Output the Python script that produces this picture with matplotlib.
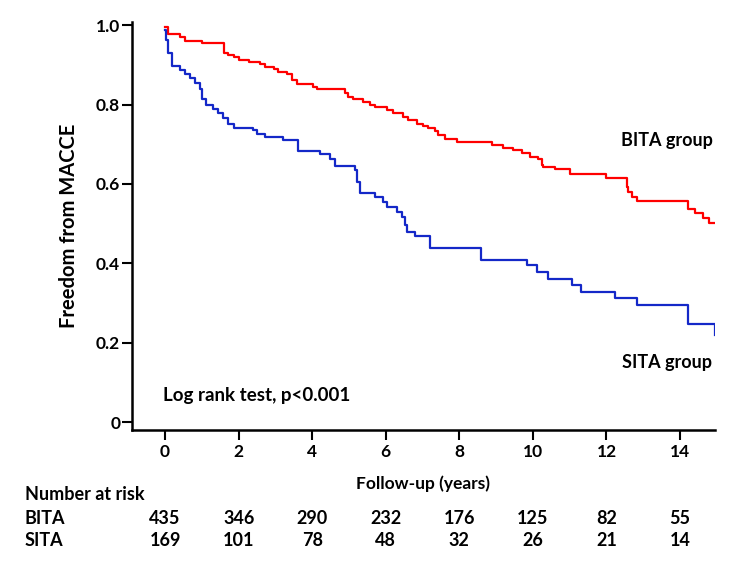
import numpy as np
import matplotlib
matplotlib.use('Agg')
import matplotlib.pyplot as plt
import matplotlib.transforms as mtransforms

plt.rcParams['font.family'] = ['Lato', 'DejaVu Sans']
plt.rcParams['font.weight'] = 'bold'
plt.rcParams['axes.labelweight'] = 'bold'

# Kaplan-Meier step curves (time in years, survival)
bita_t = [0, 0.09, 0.41, 0.54, 1.0, 1.59, 1.72, 1.86, 2.0, 2.27, 2.59, 2.72, 2.95, 3.08,
          3.31, 3.44, 3.58, 4.03, 4.12, 4.89, 4.98, 5.12, 5.39, 5.57, 5.71, 6.02, 6.2,
          6.48, 6.61, 6.84, 7.0, 7.16, 7.34, 7.43, 7.61, 7.93, 8.9, 9.19, 9.46, 9.69,
          9.92, 10.15, 10.24, 10.28, 10.6, 11.0, 12.0, 12.55, 12.59, 12.68, 12.82,
          14.22, 14.4, 14.62, 14.8, 14.95]
bita_s = [0.995, 0.977, 0.971, 0.961, 0.954, 0.931, 0.924, 0.919, 0.912, 0.908, 0.901,
          0.895, 0.889, 0.882, 0.877, 0.863, 0.853, 0.843, 0.838, 0.828, 0.819, 0.813,
          0.807, 0.798, 0.793, 0.786, 0.779, 0.769, 0.761, 0.752, 0.746, 0.740, 0.734,
          0.723, 0.712, 0.706, 0.698, 0.691, 0.685, 0.677, 0.668, 0.662, 0.647, 0.642,
          0.637, 0.625, 0.616, 0.593, 0.580, 0.568, 0.557, 0.537, 0.526, 0.513, 0.502,
          0.502]

sita_t = [0, 0.02, 0.09, 0.18, 0.41, 0.54, 0.68, 0.82, 0.95, 1.0, 1.11, 1.31, 1.45, 1.57,
          1.72, 1.86, 2.4, 2.49, 2.72, 3.21, 3.62, 4.21, 4.48, 4.62, 5.16, 5.21, 5.3,
          5.71, 5.93, 6.02, 6.3, 6.43, 6.52, 6.57, 6.79, 7.2, 8.6, 9.83, 10.1, 10.42,
          11.05, 11.32, 12.23, 12.82, 14.22, 14.95]
sita_s = [0.987, 0.962, 0.929, 0.897, 0.887, 0.877, 0.868, 0.855, 0.838, 0.815, 0.798,
          0.790, 0.778, 0.765, 0.752, 0.742, 0.736, 0.727, 0.719, 0.710, 0.683, 0.675,
          0.664, 0.645, 0.635, 0.605, 0.578, 0.568, 0.555, 0.542, 0.530, 0.517, 0.496,
          0.479, 0.469, 0.438, 0.408, 0.395, 0.379, 0.360, 0.345, 0.328, 0.312, 0.295,
          0.247, 0.219]

risk_times = [0, 2, 4, 6, 8, 10, 12, 14]
bita_risk = [435, 346, 290, 232, 176, 125, 82, 55]
sita_risk = [169, 101, 78, 48, 32, 26, 21, 14]

yticks = [0, 0.2, 0.4, 0.6, 0.8, 1.0]
ytick_labels = ['0', '0.2', '0.4', '0.6', '0.8', '1.0']

fig = plt.figure(figsize=(7.44, 5.73), dpi=100)
ax = fig.add_axes([132/744, 1 - 430/573, (715 - 132)/744, (430 - 22)/573])

ax.step(bita_t, bita_s, where='post', color='#ff0000', lw=1.6)
ax.step(sita_t, sita_s, where='post', color='#1428c8', lw=1.6)

ax.set_xlim(-0.9, 14.95)
ax.set_ylim(-0.02, 1.008)
ax.set_xticks(risk_times)
ax.set_yticks(yticks)
ax.set_yticklabels(ytick_labels)
ax.tick_params(axis='both', direction='out', length=7, width=1.5, labelsize=12.5)
ax.tick_params(axis='x', pad=3)
ax.tick_params(axis='y', pad=1.5)
for lab in ax.get_xticklabels() + ax.get_yticklabels():
    lab.set_fontweight('bold')
for side in ['top', 'right']:
    ax.spines[side].set_visible(False)
for side in ['left', 'bottom']:
    ax.spines[side].set_linewidth(1.8)

ax.set_ylabel('Freedom from MACCE', fontsize=14.5, labelpad=12)
ax.set_xlabel('Follow-up (years)', fontsize=12.5, labelpad=11)

ax.text(12.39, 0.71, 'BITA group', fontsize=13, va='center', ha='left')
ax.text(12.42, 0.151, 'SITA group', fontsize=13, va='center', ha='left')
ax.text(-0.05, 0.068, 'Log rank test, p<0.001', fontsize=13.5, va='center', ha='left')

# number at risk table below the axes
trans = mtransforms.blended_transform_factory(ax.transData, fig.transFigure)
fig.text(25/744, 1 - 495/573, 'Number at risk', fontsize=13, va='center', ha='left')
fig.text(25/744, 1 - 518/573, 'BITA', fontsize=13, va='center', ha='left')
fig.text(25/744, 1 - 540/573, 'SITA', fontsize=13, va='center', ha='left')
for t, nb, ns in zip(risk_times, bita_risk, sita_risk):
    ax.text(t, 1 - 518/573, str(nb), transform=trans, fontsize=13, va='center', ha='center')
    ax.text(t, 1 - 540/573, str(ns), transform=trans, fontsize=13, va='center', ha='center')

fig.savefig('out.png', dpi=100)
